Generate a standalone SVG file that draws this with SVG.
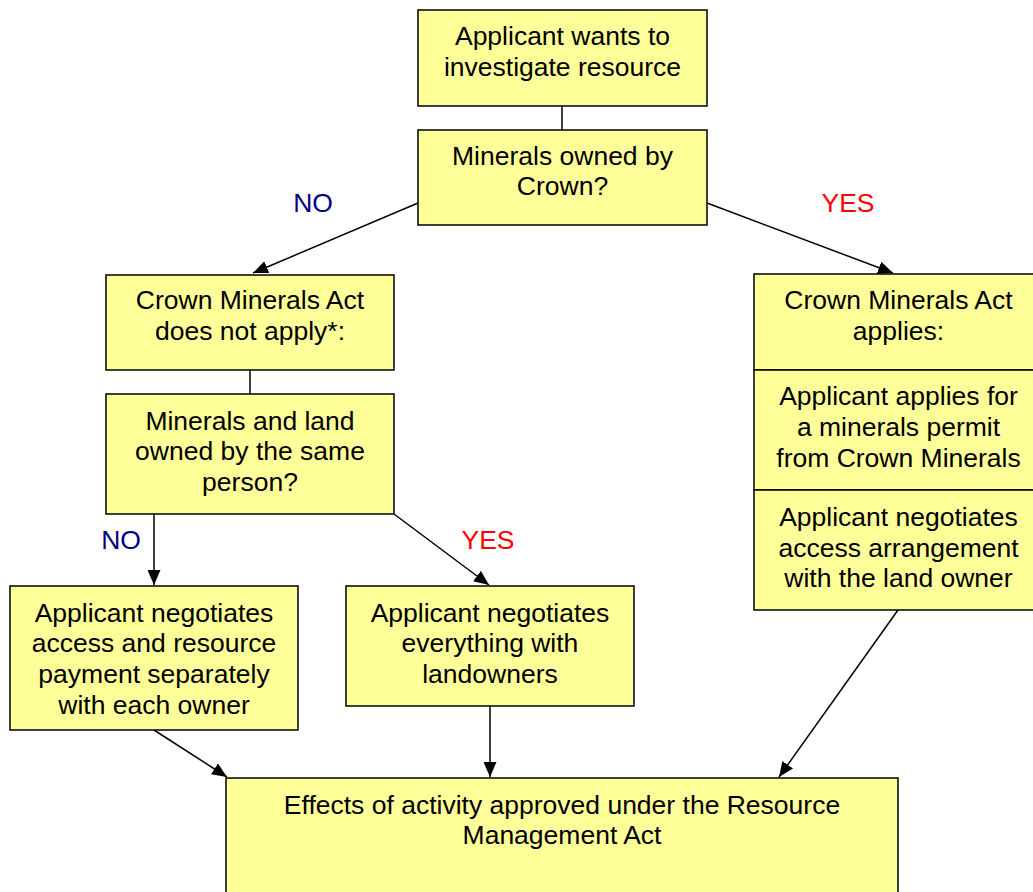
<svg xmlns="http://www.w3.org/2000/svg" width="1033" height="892" viewBox="0 0 1033 892">
<style>
.box{fill:#FFFF99;stroke:#000;stroke-width:1.5}
.t{font-family:"Liberation Sans",Arial,sans-serif;font-size:26.5px;fill:#000;text-anchor:middle}
.no{font-family:"Liberation Sans",Arial,sans-serif;font-size:26.5px;fill:#000080;text-anchor:middle}
.yes{font-family:"Liberation Sans",Arial,sans-serif;font-size:26.5px;fill:#FF0000;text-anchor:middle}
.c{stroke:#000;stroke-width:1.5;fill:none}
.a{marker-end:url(#ah)}
</style>
<defs>
<marker id="ah" viewBox="0 0 15 13" refX="15" refY="6.5" markerWidth="15" markerHeight="13" markerUnits="userSpaceOnUse" orient="auto">
<path d="M0,0 L15,6.5 L0,13 Z" fill="#000"/>
</marker>
</defs>
<rect width="1033" height="892" fill="#fff"/>
<g id="connectors">
<line class="c" x1="562" y1="106" x2="562" y2="130"/>
<line class="c a" x1="418" y1="203" x2="253" y2="273"/>
<line class="c a" x1="707" y1="203" x2="893" y2="273"/>
<line class="c" x1="250" y1="370" x2="250" y2="394"/>
<line class="c a" x1="154" y1="514" x2="154" y2="585"/>
<line class="c a" x1="394" y1="514" x2="489" y2="585"/>
<line class="c a" x1="154" y1="730" x2="227" y2="777"/>
<line class="c a" x1="490" y1="706" x2="490" y2="777"/>
<line class="c a" x1="898" y1="610" x2="779" y2="777"/>
</g>
<g id="labels">
<text class="no" x="313" y="212">NO</text>
<text class="yes" x="848" y="212">YES</text>
<text class="no" x="121" y="549">NO</text>
<text class="yes" x="488" y="549">YES</text>
</g>
<g id="n1"><rect class="box" x="418" y="10" width="289" height="96"/>
<text class="t" x="562.5" y="44.5">Applicant wants to</text><text class="t" x="562.5" y="75.5">investigate resource</text></g>
<g id="n2"><rect class="box" x="418" y="130" width="289" height="95"/>
<text class="t" x="562.5" y="164.5">Minerals owned by</text><text class="t" x="562.5" y="194.5">Crown?</text></g>
<g id="n3"><rect class="box" x="106" y="275" width="288" height="95"/>
<text class="t" x="250" y="309">Crown Minerals Act</text><text class="t" x="250" y="340">does not apply*:</text></g>
<g id="n4"><rect class="box" x="106" y="394" width="288" height="120"/>
<text class="t" x="250" y="430">Minerals and land</text><text class="t" x="250" y="460">owned by the same</text><text class="t" x="250" y="491">person?</text></g>
<g id="n5"><rect class="box" x="10" y="586" width="288" height="144"/>
<text class="t" x="154" y="622">Applicant negotiates</text><text class="t" x="154" y="652">access and resource</text><text class="t" x="154" y="683">payment separately</text><text class="t" x="154" y="714">with each owner</text></g>
<g id="n6"><rect class="box" x="346" y="586" width="288" height="120"/>
<text class="t" x="490" y="622">Applicant negotiates</text><text class="t" x="490" y="652">everything with</text><text class="t" x="490" y="683">landowners</text></g>
<g id="n7"><rect class="box" x="754" y="274" width="289" height="96"/>
<text class="t" x="898.5" y="309">Crown Minerals Act</text><text class="t" x="898.5" y="340">applies:</text></g>
<g id="n8"><rect class="box" x="754" y="370" width="289" height="120"/>
<text class="t" x="898.5" y="405">Applicant applies for</text><text class="t" x="898.5" y="436">a minerals permit</text><text class="t" x="898.5" y="467">from Crown Minerals</text></g>
<g id="n9"><rect class="box" x="754" y="490" width="289" height="120"/>
<text class="t" x="898.5" y="526">Applicant negotiates</text><text class="t" x="898.5" y="557">access arrangement</text><text class="t" x="898.5" y="587">with the land owner</text></g>
<g id="n10"><rect class="box" x="226" y="778" width="672" height="130"/>
<text class="t" x="562" y="814">Effects of activity approved under the Resource</text><text class="t" x="562" y="844">Management Act</text></g>
</svg>
